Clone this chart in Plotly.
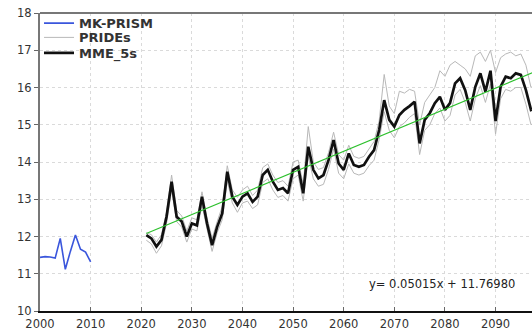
import plotly.graph_objects as go

# ---- data ----
obs_years = list(range(2000, 2011))
mk_prism = [11.44, 11.46, 11.45, 11.42, 11.95, 11.12, 11.60, 12.04, 11.66, 11.58, 11.32]

fut_years = list(range(2021, 2099))
mme_5s = [12.04, 11.95, 11.73, 11.91, 12.53, 13.47, 12.53, 12.40, 12.00, 12.35,
          12.30, 13.07, 12.35, 11.77, 12.26, 12.62, 13.74, 13.07, 12.85, 13.07,
          13.16, 12.93, 13.07, 13.65, 13.79, 13.47, 13.25, 13.30, 13.16, 13.79,
          13.87, 13.16, 14.41, 13.79, 13.56, 13.65, 14.05, 14.59, 13.96, 13.79,
          14.23, 13.92, 13.87, 13.92, 14.14, 14.32, 14.86, 15.66, 15.13, 14.95,
          15.26, 15.40, 15.50, 15.62, 14.50, 15.13, 15.31, 15.58, 15.75, 15.40,
          15.58, 16.11, 16.25, 15.93, 15.40, 16.02, 16.38, 15.89, 16.45, 15.10,
          16.02, 16.29, 16.25, 16.38, 16.34, 15.93, 15.40, 15.45]

prides_hi = [12.10, 12.05, 11.85, 12.05, 12.65, 13.65, 12.70, 12.55, 12.15, 12.50,
             12.45, 13.20, 12.50, 11.95, 12.40, 12.80, 13.90, 13.25, 13.05, 13.25,
             13.35, 13.10, 13.25, 13.85, 13.95, 13.65, 13.45, 13.50, 13.35, 14.00,
             14.05, 13.40, 14.95, 14.00, 13.80, 13.85, 14.25, 14.80, 14.20, 14.05,
             14.45, 14.15, 14.10, 14.15, 14.35, 14.55, 15.10, 16.35, 15.50, 15.30,
             15.90, 15.85, 15.95, 15.90, 15.00, 15.60, 15.80, 16.00, 16.45, 16.30,
             16.60, 16.70, 16.60, 16.50, 16.30, 16.85, 16.95, 16.70, 17.00, 16.40,
             16.80, 16.90, 16.95, 16.85, 16.90, 16.60, 16.00, 16.10]

prides_lo = [11.90, 11.80, 11.55, 11.75, 12.35, 13.25, 12.40, 12.25, 11.85, 12.20,
             12.15, 12.85, 12.20, 11.60, 12.10, 12.45, 13.50, 12.90, 12.65, 12.90,
             12.95, 12.75, 12.85, 13.45, 13.55, 13.25, 13.05, 13.10, 12.95, 13.55,
             13.65, 12.95, 14.15, 13.55, 13.35, 13.40, 13.80, 14.35, 13.70, 13.55,
             13.95, 13.70, 13.65, 13.70, 13.90, 14.05, 14.60, 15.35, 14.85, 14.65,
             14.95, 15.05, 15.20, 15.30, 14.20, 14.85, 15.00, 15.30, 15.45, 15.10,
             15.25, 15.80, 15.95, 15.60, 15.10, 15.70, 16.05, 15.60, 16.10, 14.75,
             15.70, 15.95, 15.90, 16.00, 16.00, 15.55, 15.00, 15.10]

trend_years = [2021, 2100]
trend_vals = [12.08, 16.55]
trend_label = "y= 0.05015x + 11.76980"

x_ticks = [2000, 2010, 2020, 2030, 2040, 2050, 2060, 2070, 2080, 2090]
y_ticks = [10, 11, 12, 13, 14, 15, 16, 17, 18]

FONT = "DejaVu Sans, Arial, sans-serif"

fig = go.Figure()
fig.add_trace(go.Scatter(x=obs_years, y=mk_prism, mode="lines", name="MK-PRISM",
                         legend="legend",
                         line=dict(color="#3a56dc", width=1.6)))
fig.add_trace(go.Scatter(x=fut_years, y=prides_hi, mode="lines", name="PRIDEs",
                         legend="legend2", legendgroup="p",
                         line=dict(color="#b8b8b8", width=1)))
fig.add_trace(go.Scatter(x=fut_years, y=prides_lo, mode="lines", name="PRIDEs",
                         legend="legend2", legendgroup="p", showlegend=False,
                         line=dict(color="#b8b8b8", width=1)))
fig.add_trace(go.Scatter(x=fut_years, y=mme_5s, mode="lines", name="MME_5s",
                         legend="legend3",
                         line=dict(color="#111111", width=2.7)))
fig.add_trace(go.Scatter(x=trend_years, y=trend_vals, mode="lines", showlegend=False,
                         line=dict(color="#2cc02c", width=1.1)))

fig.add_annotation(x=0.817, y=0.09, xref="paper", yref="paper", text=trend_label,
                   showarrow=False, xanchor="center", yanchor="middle",
                   font=dict(family=FONT, size=11.5, color="#222"))

fig.add_shape(type="line", xref="paper", yref="paper", x0=0, x1=1, y0=1, y1=1,
              layer="above", line=dict(color="#777777", width=2))

leg_common = dict(x=-0.002, xanchor="left", yanchor="middle",
                  bgcolor="rgba(0,0,0,0)", itemwidth=30,
                  font=dict(family=FONT, size=13, color="#333", weight="bold"))

fig.update_layout(
    width=532, height=331,
    margin=dict(l=40, r=0, t=13, b=20),
    paper_bgcolor="white", plot_bgcolor="white",
    font=dict(family=FONT, size=12, color="#333"),
    showlegend=True,
    legend=dict(y=0.966, **leg_common),
    legend2=dict(y=0.918, **leg_common),
    legend3=dict(y=0.866, **leg_common),
)
fig.update_xaxes(range=[2000, 2097.2], tickvals=x_ticks,
                 ticktext=[str(v) for v in x_ticks],
                 showline=True, linecolor="#111", linewidth=1.5,
                 ticks="inside", ticklen=4, tickcolor="#666",
                 showgrid=True, gridcolor="#dadada", griddash="dot", gridwidth=1,
                 zeroline=False, ticklabelstandoff=1, ticklabeloverflow="allow",
                 tickfont=dict(family=FONT, size=11.5, color="#333"))
fig.update_yaxes(range=[10, 18], tickvals=y_ticks,
                 showline=True, linecolor="#777", linewidth=2,
                 ticks="outside", ticklen=4, tickcolor="#666",
                 showgrid=True, gridcolor="#dadada", griddash="dot", gridwidth=1,
                 zeroline=False, ticklabeloverflow="allow",
                 tickfont=dict(family=FONT, size=11.5, color="#333"))

# remove the browser's default 8px page margin so the figure sits at the window origin
fig.write_html("out.html",
               config={"displayModeBar": False},
               post_script="document.body.style.margin='0px';document.body.style.overflow='hidden';")
